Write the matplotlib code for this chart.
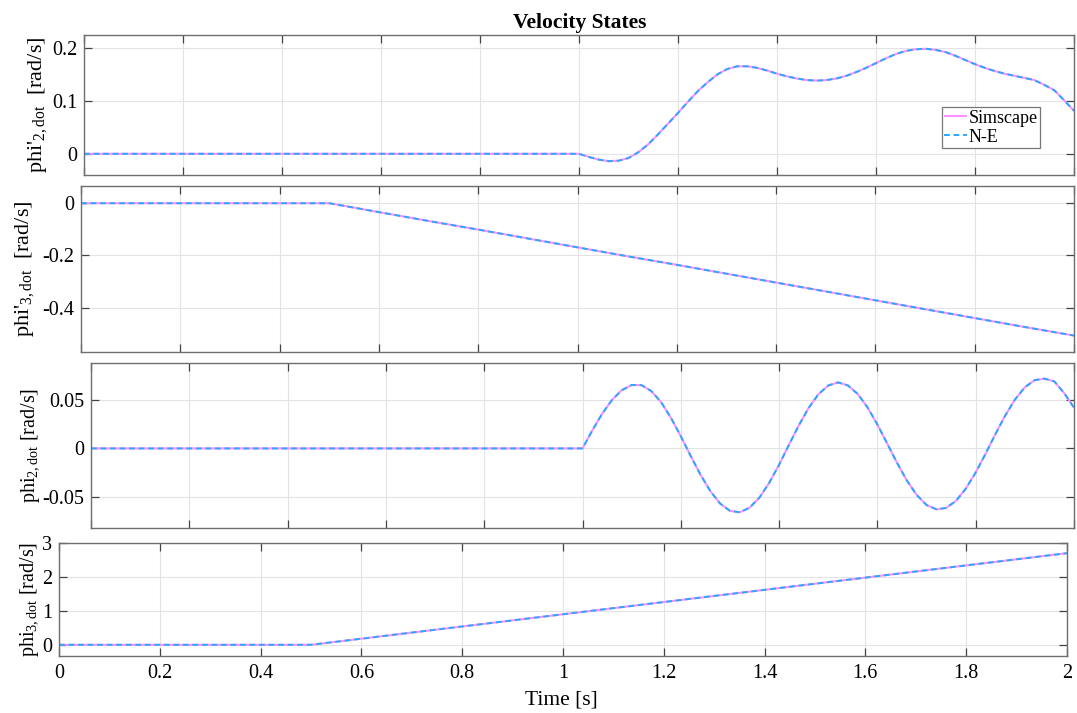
import matplotlib
matplotlib.use("Agg")
import matplotlib.pyplot as plt

plt.rcParams['font.family'] = ['Liberation Serif', 'DejaVu Serif']
plt.rcParams['mathtext.fontset'] = 'custom'
plt.rcParams['mathtext.rm'] = 'Liberation Serif'
plt.rcParams['mathtext.it'] = 'Liberation Serif:italic'
plt.rcParams['axes.unicode_minus'] = False

# ---------------- data ----------------
t1 = [0.0, 1.00, 1.02, 1.04, 1.06, 1.08, 1.10, 1.12, 1.14, 1.16, 1.18, 1.20, 1.22, 1.24,
      1.26, 1.28, 1.30, 1.32, 1.34, 1.36, 1.38, 1.40, 1.42, 1.44, 1.46, 1.48, 1.50, 1.52,
      1.54, 1.56, 1.58, 1.60, 1.62, 1.64, 1.66, 1.68, 1.70, 1.72, 1.74, 1.76, 1.78, 1.80,
      1.82, 1.84, 1.86, 1.88, 1.90, 1.92, 1.94, 1.96, 1.98, 2.00]
phi2p_dot = [0.0, 0.0, -0.006, -0.011, -0.014, -0.013, -0.008, 0.003, 0.018, 0.037, 0.057,
             0.077, 0.098, 0.118, 0.135, 0.150, 0.160, 0.165, 0.165, 0.162, 0.157, 0.151,
             0.146, 0.142, 0.139, 0.138, 0.139, 0.142, 0.147, 0.154, 0.162, 0.171, 0.180,
             0.188, 0.194, 0.197, 0.198, 0.196, 0.192, 0.185, 0.177, 0.169, 0.162, 0.156,
             0.151, 0.147, 0.143, 0.139, 0.130, 0.120, 0.101, 0.081]

t2 = [0.0, 0.5, 0.6, 0.7, 0.8, 0.9, 1.0, 1.1, 1.2, 1.3, 1.4, 1.5, 1.6, 1.7, 1.8, 1.9, 2.0]
phi3p_dot = [0.0, 0.0, -0.034, -0.068, -0.101, -0.135, -0.169, -0.203, -0.236, -0.270,
             -0.304, -0.338, -0.372, -0.406, -0.440, -0.474, -0.507]

t3 = [0.0, 1.00, 1.02, 1.04, 1.06, 1.08, 1.10, 1.12, 1.14, 1.16, 1.18, 1.20, 1.22, 1.24,
      1.26, 1.28, 1.30, 1.32, 1.34, 1.36, 1.38, 1.40, 1.42, 1.44, 1.46, 1.48, 1.50, 1.52,
      1.54, 1.56, 1.58, 1.60, 1.62, 1.64, 1.66, 1.68, 1.70, 1.72, 1.74, 1.76, 1.78, 1.80,
      1.82, 1.84, 1.86, 1.88, 1.90, 1.92, 1.94, 1.96, 1.98, 2.00]
phi2_dot = [0.0, 0.0, 0.0186, 0.0357, 0.0499, 0.0600, 0.0653, 0.0652, 0.0591, 0.0476,
            0.0315, 0.0126, -0.0076, -0.0270, -0.0439, -0.0568, -0.0643, -0.0658, -0.0611,
            -0.0507, -0.0354, -0.0168, 0.0036, 0.0236, 0.0416, 0.0558, 0.0648, 0.0680,
            0.0649, 0.0561, 0.0422, 0.0246, 0.0050, -0.0149, -0.0331, -0.0480, -0.0583,
            -0.0628, -0.0613, -0.0540, -0.0414, -0.0248, -0.0056, 0.0146, 0.0338, 0.0504,
            0.0630, 0.0703, 0.0719, 0.0690, 0.0570, 0.0420]

t4 = [0.0, 0.5, 0.6, 0.8, 1.0, 1.2, 1.4, 1.6, 1.8, 2.0]
phi3_dot = [0.0, 0.0, 0.18, 0.54, 0.90, 1.26, 1.62, 1.98, 2.34, 2.70]

x_ticks = [0, 0.2, 0.4, 0.6, 0.8, 1.0, 1.2, 1.4, 1.6, 1.8, 2.0]
x_ticklabels = ['0', '0.2', '0.4', '0.6', '0.8', '1', '1.2', '1.4', '1.6', '1.8', '2']

panels = [
    dict(t=t1, y=phi2p_dot, ylim=(-0.04, 0.224), yt=[0, 0.1, 0.2], ytl=['0', '0.1', '0.2'],
         label=r"phi$'_{\mathrm{2,dot}}$  [rad/s]", box=(84, 1074, 35, 175), lx=38, lfs=16),
    dict(t=t2, y=phi3p_dot, ylim=(-0.57, 0.066), yt=[-0.4, -0.2, 0], ytl=['-0.4', '-0.2', '0'],
         label=r"phi$'_{\mathrm{3,dot}}$  [rad/s]", box=(81, 1074, 186, 352), lx=25, lfs=16),
    dict(t=t3, y=phi2_dot, ylim=(-0.082, 0.088), yt=[-0.05, 0, 0.05], ytl=['-0.05', '0', '0.05'],
         label=r"phi$_{\mathrm{2,dot}}$ [rad/s]", box=(91, 1074, 363, 528), lx=31, lfs=14.5),
    dict(t=t4, y=phi3_dot, ylim=(-0.33, 3.0), yt=[0, 1, 2, 3], ytl=['0', '1', '2', '3'],
         label=r"phi$_{\mathrm{3,dot}}$ [rad/s]", box=(59, 1067, 543, 656), lx=30, lfs=14.5),
]

W, H = 1077, 713
fig = plt.figure(figsize=(W / 100, H / 100), dpi=100)

pink = '#ff90ff'
blue = '#2aa8ff'
edge = '#6e6e6e'
FS = 14.5

for i, p in enumerate(panels):
    l, r, top, b = p['box']
    ax = fig.add_axes([l / W, 1 - b / H, (r - l) / W, (b - top) / H])
    h1, = ax.plot(p['t'], p['y'], color=pink, lw=1.5, solid_capstyle='butt', label='Simscape')
    h2, = ax.plot(p['t'], p['y'], color=blue, lw=1.4, ls=(0, (3.0, 1.9)), label='N-E')
    ax.set_xlim(0, 2)
    ax.set_ylim(*p['ylim'])
    ax.set_xticks(x_ticks)
    ax.set_yticks(p['yt'])
    ax.set_yticklabels(p['ytl'])
    if i == 3:
        ax.set_xticklabels(x_ticklabels)
    else:
        ax.set_xticklabels([])
    ax.grid(True, color='#e3e3e3', lw=0.8)
    ax.set_axisbelow(True)
    ax.tick_params(direction='in', length=6, width=0.9, color='#444444',
                   top=True, right=True, labelsize=FS, pad=5)
    ax.tick_params(axis='x', pad=6)
    for s in ax.spines.values():
        s.set_color(edge)
        s.set_linewidth(1.0)
    cy = (top + b) / 2
    fig.text(p['lx'] / W, 1 - cy / H, p['label'], rotation=90, ha='center', va='center',
             fontsize=p['lfs'])
    if i == 0:
        leg = ax.legend(handles=[h1, h2], loc='upper right', bbox_to_anchor=(0.966, 0.487),
                        fontsize=13, frameon=True, fancybox=False, edgecolor='#777777',
                        framealpha=1, handlelength=1.25, handletextpad=0.08, borderpad=0.15,
                        labelspacing=0.12, borderaxespad=0)
        leg.get_frame().set_linewidth(0.9)

fig.text(580 / W, 1 - 28 / H, 'Velocity States', ha='center', va='baseline',
         fontsize=15.5, fontweight='bold')
fig.text(561 / W, 1 - 700 / H, 'Time [s]', ha='center', va='center', fontsize=15.5)

fig.savefig('out.png', dpi=100)
